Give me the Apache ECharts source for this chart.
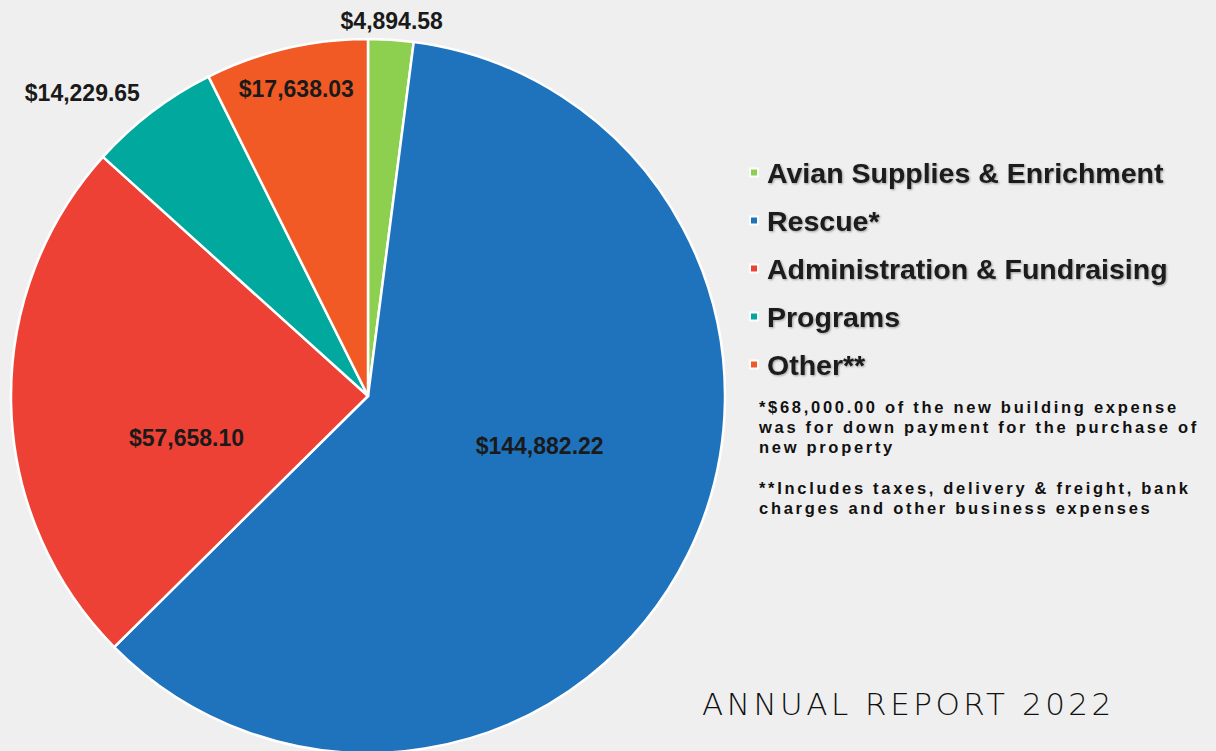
<!DOCTYPE html>
<html>
<head>
<meta charset="utf-8">
<script src="https://cdn.jsdelivr.net/npm/echarts@6/dist/echarts.min.js"></script>
<style>
html,body{margin:0;padding:0;background:#efefef;}
#chart{width:1216px;height:751px;}
/* letter-spaced footnotes and title (SVG renderer) */
#chart text[style*="16.5px"]{letter-spacing:2.7px;}
#chart text[style*="31px"]{letter-spacing:3.5px;}
</style>
</head>
<body>
<div id="chart"></div>
<script>
const categories = ['Avian Supplies & Enrichment', 'Rescue*', 'Administration & Fundraising', 'Programs', 'Other**'];
const values = [4894.58, 144882.22, 57658.10, 14229.65, 17638.03];
const colors = ['#8dcf4f', '#1f73bd', '#ee4135', '#00a89d', '#f15a25'];
const labelPositions = ['outside', 'inside', 'inside', 'outside', 'inside'];
const footnote1 = ['*$68,000.00 of the new building expense', 'was for down payment for the purchase of', 'new property'];
const footnote2 = ['**Includes taxes, delivery & freight, bank', 'charges and other business expenses'];
const titleText = 'ANNUAL REPORT 2022';

// label nudges (pixels) relative to ECharts' default label placement
const labelDx = [-56, 9, 0, -1, -30];
const labelDy = [-9, -31, 38, -11, -130];

function fmt(v) {
  return '$' + v.toLocaleString('en-US', {minimumFractionDigits: 2, maximumFractionDigits: 2});
}

const chart = echarts.init(document.getElementById('chart'), null, {renderer: 'svg'});
chart.setOption({
  backgroundColor: '#efefef',
  animation: false,
  color: colors,
  legend: {
    orient: 'vertical',
    left: 744,
    top: 153,
    icon: 'rect',
    itemWidth: 8,
    itemHeight: 8,
    itemGap: 19,
    data: categories,
    textStyle: {
      fontFamily: 'Liberation Sans, Arial, sans-serif',
      fontWeight: 'bold',
      fontSize: 28.5,
      color: '#1a1a1a',
      padding: [0, 0, 0, 4],
      textShadowColor: 'rgba(0,0,0,0.35)',
      textShadowBlur: 2,
      textShadowOffsetX: 1,
      textShadowOffsetY: 1
    },
    selectedMode: false
  },
  graphic: [
    {
      type: 'text', left: 759, top: 397,
      style: {
        text: footnote1.join('\n'),
        font: 'bold 16.5px "Liberation Sans", Arial, sans-serif',
        lineHeight: 20, fill: '#111'
      }
    },
    {
      type: 'text', left: 759, top: 478,
      style: {
        text: footnote2.join('\n'),
        font: 'bold 16.5px "Liberation Sans", Arial, sans-serif',
        lineHeight: 20, fill: '#111'
      }
    },
    {
      type: 'text', left: 702, top: 688,
      style: {
        text: titleText,
        font: '200 31px "DejaVu Sans", sans-serif',
        fill: '#111'
      }
    }
  ],
  series: [{
    type: 'pie',
    center: [368, 396],
    radius: 357,
    startAngle: 90,
    clockwise: true,
    avoidLabelOverlap: false,
    itemStyle: { borderColor: '#ffffff', borderWidth: 2.5 },
    labelLine: { show: false, length: 10, length2: 0 },
    label: {
      fontFamily: 'Liberation Sans, Arial, sans-serif',
      fontWeight: 'bold',
      fontSize: 23,
      color: '#1a1a1a',
      formatter: p => fmt(p.value)
    },
    labelLayout: function (params) {
      const i = params.dataIndex;
      return { dx: labelDx[i], dy: labelDy[i] };
    },
    emphasis: { disabled: true },
    data: categories.map((c, i) => ({
      name: c,
      value: values[i],
      label: { position: labelPositions[i] }
    }))
  }]
});
</script>
</body>
</html>
